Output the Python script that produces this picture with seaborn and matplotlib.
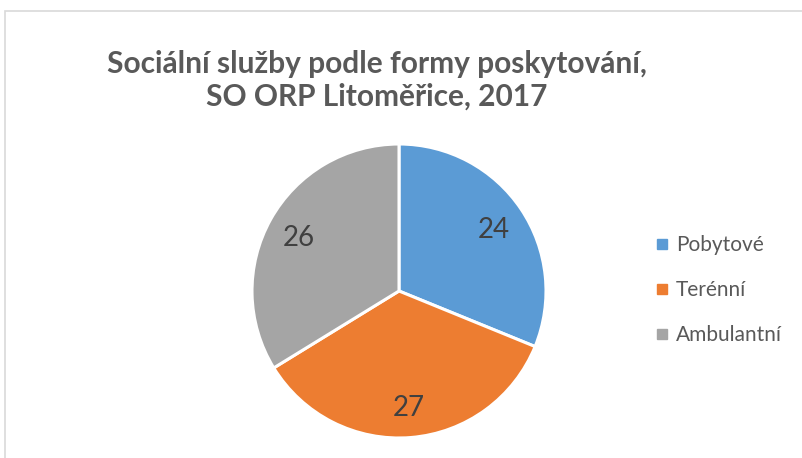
import matplotlib
matplotlib.use("Agg")
import matplotlib.pyplot as plt
from matplotlib.lines import Line2D
from matplotlib.patches import Rectangle
import seaborn as sns

categories = ["Pobytové", "Terénní", "Ambulantní"]
values = [24, 27, 26]
colors = ["#5B9BD5", "#ED7D31", "#A5A5A5"]
title = "Sociální služby podle formy poskytování,\nSO ORP Litoměřice, 2017"

sns.set_theme(style="white")
plt.rcParams["font.family"] = ["Lato", "DejaVu Sans"]
palette = sns.color_palette(colors)

W, H = 803, 458
fig = plt.figure(figsize=(W / 100, H / 100), dpi=100)
fig.patch.set_facecolor("white")

# chart frame
fig.add_artist(Rectangle((5 / W, -0.1), 1.2, 1 - 11 / H + 0.1,
                         transform=fig.transFigure, fill=False,
                         edgecolor="#D9D9D9", linewidth=1.2))

cx, cy, r = 399, H - 291, 147
ax = fig.add_axes([(cx - r) / W, (cy - r) / H, 2 * r / W, 2 * r / H])
wedges, texts = ax.pie(values, colors=palette, startangle=90, counterclock=False,
                       labels=[str(v) for v in values], labeldistance=0.78,
                       wedgeprops=dict(edgecolor="white", linewidth=2.2),
                       textprops=dict(color="#404040", fontsize=20))
for t in texts:
    t.set_ha("center")
    t.set_va("center_baseline")
ax.set_xlim(-1, 1)
ax.set_ylim(-1, 1)
ax.set_aspect("equal")
ax.axis("off")

fig.text(377 / W, 1 - 80 / H, title, ha="center", va="center",
         fontsize=21.5, fontweight="bold", color="#595959", linespacing=1.2)

handles = [Line2D([], [], marker="s", linestyle="none", markersize=7,
                  markerfacecolor=c, markeredgecolor=c) for c in colors]
fig.legend(handles, categories, loc="center left",
           bbox_to_anchor=(633 / W, 1 - 290 / H), frameon=False,
           fontsize=15, labelcolor="#595959", handletextpad=0.15,
           labelspacing=1.2, handlelength=1.0)

fig.savefig("out.png", dpi=100)
